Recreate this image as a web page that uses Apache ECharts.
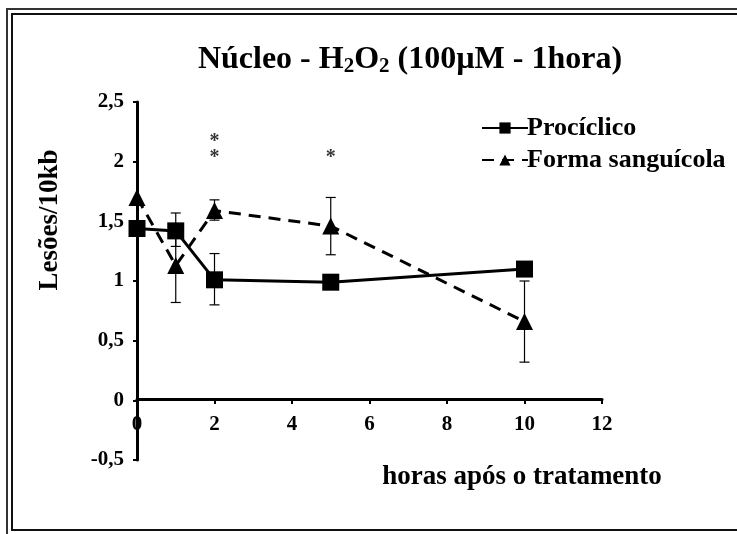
<!DOCTYPE html>
<html>
<head>
<meta charset="utf-8">
<script src="https://cdn.jsdelivr.net/npm/echarts@6/dist/echarts.min.js"></script>
<style>
  html, body { margin: 0; padding: 0; background: #fff; }
  #chart { width: 737px; height: 534px; }
</style>
</head>
<body>
<div id="chart"></div>
<script>
// horas após o tratamento
const hours = [0, 1, 2, 5, 10];
const prociclico = [1.44, 1.42, 1.01, 0.99, 1.10];
const sanguicola = [1.70, 1.13, 1.59, 1.46, 0.66];
// error bars [x, low, high]
const prociclicoErr = [[1, 1.29, 1.57], [2, 0.80, 1.23]];
const sanguicolaErr = [[1, 0.82, 1.44], [2, 1.51, 1.68], [5, 1.22, 1.70], [10, 0.32, 1.00]];
// significance marks
const stars = [[2, 2.21], [2, 2.07], [5, 2.07]];
const legendNames = ['Procíclico', 'Forma sanguícola'];

const FONT = '"Liberation Serif", "DejaVu Serif", serif';

const chart = echarts.init(document.getElementById('chart'));

function errorBar(params, api) {
	const x = api.value(0);
	const lo = api.coord([x, api.value(1)]);
	const hi = api.coord([x, api.value(2)]);
	const cap = 5;
	const style = { stroke: '#000', lineWidth: 1.2 };
	return {
		type: 'group',
		children: [
			{ type: 'line', shape: { x1: lo[0], y1: lo[1], x2: hi[0], y2: hi[1] }, style: style },
			{ type: 'line', shape: { x1: lo[0] - cap, y1: lo[1], x2: lo[0] + cap, y2: lo[1] }, style: style },
			{ type: 'line', shape: { x1: hi[0] - cap, y1: hi[1], x2: hi[0] + cap, y2: hi[1] }, style: style }
		]
	};
}

const option = {
	backgroundColor: '#fff',
	animation: false,
	textStyle: { fontFamily: FONT },
	title: {
		text: '{t|Núcleo - H}{s|2}{t|O}{s|2}{t| (100µM - 1hora)}',
		left: 405,
		top: 37,
		textAlign: 'center',
		textStyle: {
			rich: {
				t: { fontFamily: FONT, fontWeight: 'bold', fontSize: 32, color: '#000' },
				s: { fontFamily: FONT, fontWeight: 'bold', fontSize: 21, color: '#000', padding: [14, 0, 0, 0] }
			}
		}
	},
	legend: {
		data: legendNames,
		orient: 'vertical',
		left: 476,
		top: 110,
		itemWidth: 46,
		itemHeight: 14,
		itemGap: 6,
		textStyle: { fontFamily: FONT, fontWeight: 'bold', fontSize: 26, color: '#000', padding: [0, 0, 0, -6] }
	},
	grid: { left: 137, right: 135, top: 102, bottom: 74, outerBoundsMode: 'none' },
	xAxis: {
		type: 'value',
		min: 0, max: 12, interval: 2,
		offset: -61,
		axisLine: { onZero: false, lineStyle: { color: '#000', width: 3 } },
		axisTick: { show: true, length: 5, lineStyle: { color: '#000', width: 2 } },
		axisLabel: { fontFamily: FONT, fontWeight: 'bold', fontSize: 21, color: '#000', margin: 15 },
		splitLine: { show: false }
	},
	yAxis: {
		type: 'value',
		min: -0.5, max: 2.5, interval: 0.5,
		axisLine: { show: true, onZero: false, lineStyle: { color: '#000', width: 3 } },
		axisTick: { show: true, length: 4, lineStyle: { color: '#000', width: 2 } },
		axisLabel: {
			fontFamily: FONT, fontWeight: 'bold', fontSize: 21, color: '#000', margin: 13,
			formatter: v => String(Math.round(v * 10) / 10).replace('.', ',')
		},
		splitLine: { show: false }
	},
	series: [
		{
			name: 'Prociclico-err', type: 'custom', renderItem: errorBar,
			data: prociclicoErr, z: 1, silent: true
		},
		{
			name: 'Forma-err', type: 'custom', renderItem: errorBar,
			data: sanguicolaErr, z: 1, silent: true
		},
		{
			name: legendNames[0], type: 'line',
			data: hours.map((h, i) => [h, prociclico[i]]),
			symbol: 'rect', symbolSize: 17,
			itemStyle: { color: '#000' },
			lineStyle: { color: '#000', width: 3 },
			z: 3
		},
		{
			name: legendNames[1], type: 'line',
			data: hours.map((h, i) => [h, sanguicola[i]]),
			symbol: 'triangle', symbolSize: 17,
			itemStyle: { color: '#000' },
			lineStyle: { color: '#000', width: 3, type: [12, 8] },
			z: 2
		},
		{
			name: 'stars', type: 'scatter',
			data: stars, symbolSize: 0,
			label: {
				show: true, position: 'inside', formatter: '*',
				fontFamily: FONT, fontWeight: 'bold', fontSize: 20, color: '#000', offset: [0, 5]
			},
			silent: true
		}
	],
	graphic: [
		{ type: 'rect', shape: { x: 7, y: 9, width: 760, height: 560 }, style: { fill: null, stroke: '#333', lineWidth: 2 }, silent: true },
		{ type: 'rect', shape: { x: 12, y: 14, width: 760, height: 516 }, style: { fill: null, stroke: '#111', lineWidth: 2 }, silent: true },
		{
			type: 'text', x: 522, y: 477,
			style: { text: 'horas após o tratamento', font: 'bold 27px ' + FONT, fill: '#000', align: 'center', verticalAlign: 'middle' },
			silent: true
		},
		{
			type: 'text', x: 50, y: 220, rotation: Math.PI / 2,
			style: { text: 'Lesões/10kb', font: 'bold 27px ' + FONT, fill: '#000', align: 'center', verticalAlign: 'middle' },
			silent: true
		}
	]
};

chart.setOption(option);
</script>
</body>
</html>
